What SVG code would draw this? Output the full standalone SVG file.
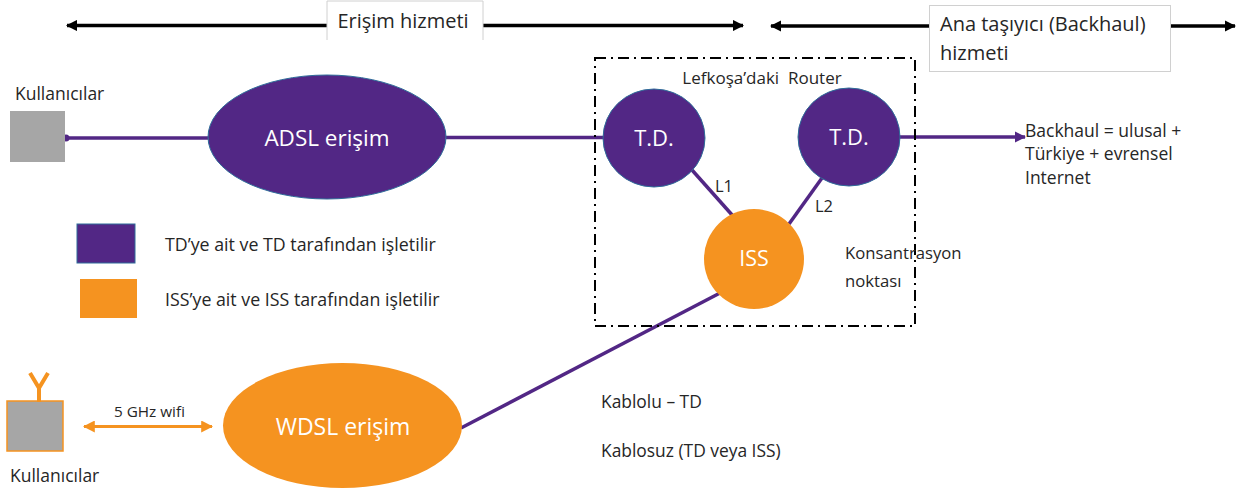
<svg xmlns="http://www.w3.org/2000/svg" width="1248" height="493" viewBox="0 0 1248 493">
<style>
text{font-family:"Open Sans","Noto Sans","Liberation Sans",sans-serif;fill:#262626;white-space:pre}
text.w{fill:#fff}
.m{text-anchor:middle}
.p{stroke:#522785;stroke-width:3.500;fill:none}
.k{stroke:#000;stroke-width:3.500;fill:none}
.pf{fill:#522785;stroke:#2f6d9a;stroke-width:1}
.of{fill:#f59320}
.box{fill:#fff;stroke:#d0d0d0;stroke-width:1}
</style>
<defs>
<marker id="ka" viewBox="0 0 10 10" refX="9" refY="5" markerWidth="3.200" markerHeight="3.200" orient="auto-start-reverse"><path d="M0 0L10 5L0 10Z" fill="#000"/></marker>
<marker id="pa" viewBox="0 0 10 10" refX="9" refY="5" markerWidth="3.200" markerHeight="3.200" orient="auto"><path d="M0 0L10 5L0 10Z" fill="#522785"/></marker>
<marker id="oa" viewBox="0 0 10 10" refX="9" refY="5" markerWidth="4" markerHeight="4" orient="auto-start-reverse"><path d="M0 0L10 5L0 10Z" fill="#f59320"/></marker>
</defs>
<g id="connectors">
<path class="k" d="M67 25.500H743" marker-start="url(#ka)" marker-end="url(#ka)"/>
<path class="k" d="M771 26H1235" marker-start="url(#ka)" marker-end="url(#ka)"/>
<path class="p" d="M66 138H208"/>
<circle cx="66" cy="138" r="3.500" fill="#522785"/>
<path class="p" d="M446 137.500H604"/>
<path class="p" d="M899 137H1025" marker-end="url(#pa)"/>
<path class="p" d="M692 170L733 216"/>
<path class="p" d="M822 178L789 224"/>
<path class="p" d="M720 293L461 428"/>
<path d="M84 426.500H212" fill="none" stroke="#f59320" stroke-width="3" marker-start="url(#oa)" marker-end="url(#oa)"/>
</g>
<g id="router-frame"><rect x="595" y="58" width="320" height="268" fill="none" stroke="#000" stroke-width="2" stroke-dasharray="11 5 2 5"/><text x="762" y="84" class="m" font-size="17">Lefkoşa’daki  Router</text></g>
<g id="erisim-label"><path class="box" d="M327 40V1H483V40"/><text x="403" y="28" class="m" font-size="20">Erişim hizmeti</text></g>
<g id="backhaul-label"><rect class="box" x="929.500" y="5.500" width="241" height="66"/><text x="940" y="31" font-size="20">Ana taşıyıcı (Backhaul)</text><text x="940" y="60" font-size="20">hizmeti</text></g>
<g id="users-top"><rect x="10" y="111" width="55" height="51" fill="#a6a6a6"/><text x="15" y="100" font-size="17.500">Kullanıcılar</text></g>
<g id="adsl"><ellipse class="pf" cx="327" cy="137" rx="119" ry="62"/><text x="327" y="146" class="m w" font-size="22.500">ADSL erişim</text></g>
<g id="td1"><ellipse class="pf" cx="654" cy="138" rx="51" ry="49"/><text x="654" y="146" class="m w" font-size="22">T.D.</text></g>
<g id="td2"><ellipse class="pf" cx="849" cy="137" rx="51" ry="49"/><text x="849" y="145" class="m w" font-size="22">T.D.</text></g>
<g id="iss"><ellipse class="of" cx="754" cy="259" rx="50" ry="50"/><text x="754" y="266" class="m w" font-size="21.500">ISS</text></g>
<g id="wdsl"><ellipse class="of" cx="342.500" cy="425.500" rx="119.500" ry="62.500"/><text x="343" y="435" class="m w" font-size="23">WDSL erişim</text></g>
<g id="users-bottom"><rect x="7" y="401" width="56" height="50" fill="#a6a6a6" stroke="#f59320" stroke-width="1.500"/><path d="M30 373L39 388L48 373M39 388V402" fill="none" stroke="#f59320" stroke-width="4"/><text x="10" y="482" font-size="17.500">Kullanıcılar</text></g>
<g id="legend-td"><rect class="pf" x="77" y="224" width="58" height="39"/><text x="165" y="251" font-size="17.800">TD’ye ait ve TD tarafından işletilir</text></g>
<g id="legend-iss"><rect class="of" x="80" y="279" width="57" height="39"/><text x="165" y="306" font-size="17.800">ISS’ye ait ve ISS tarafından işletilir</text></g>
<text x="1025" y="137" font-size="17.500">Backhaul = ulusal +</text>
<text x="1025" y="160" font-size="17.500">Türkiye + evrensel</text>
<text x="1025" y="184" font-size="17.500">Internet</text>
<text x="715" y="192" font-size="16.500">L1</text>
<text x="815" y="212" font-size="16.500">L2</text>
<text x="845" y="259" font-size="16.700">Konsantrasyon</text>
<text x="845" y="287" font-size="16.700">noktası</text>
<text x="114" y="417" font-size="15.300">5 GHz wifi</text>
<text x="601" y="408" font-size="17.400">Kablolu – TD</text>
<text x="601" y="457" font-size="17.400">Kablosuz (TD veya ISS)</text>
</svg>
